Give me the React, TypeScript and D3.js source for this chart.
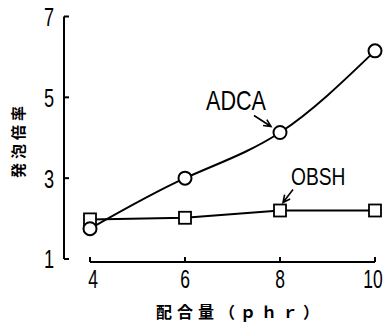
import React from "react";
import * as d3 from "d3";

const xValues = [4, 6, 8, 10];
const adca = [1.75, 3.0, 4.13, 6.15];
const obsh = [1.98, 2.02, 2.2, 2.2];
const xTicks = [4, 6, 8, 10];
const yTicks = [1, 3, 5, 7];
const xTitle = "配合量（ｐｈｒ）";
const yTitle = "発泡倍率";
const adcaName = "ADCA";
const obshName = "OBSH";

const W = 388;
const H = 324;
const FONT = "'Liberation Sans', 'DejaVu Sans', sans-serif";
const CJK = "'Noto Sans CJK JP', 'Noto Sans CJK SC', sans-serif";
const SX = 0.7;

export default function App() {
  const x = d3.scaleLinear().domain([4, 10]).range([90, 375]);
  const y = d3.scaleLinear().domain([1, 7]).range([259, 16.5]);
  const axisX = 64;
  const axisY = 262;

  const adcaPts: [number, number][] = xValues.map((v, i) => [x(v), y(adca[i])]);
  const obshPts: [number, number][] = xValues.map((v, i) => [x(v), y(obsh[i])]);
  const curve = d3.line().curve(d3.curveNatural);
  const straight = d3.line();

  const arrow = (x1: number, y1: number, x2: number, y2: number) => {
    const a = Math.atan2(y2 - y1, x2 - x1);
    const L = 8;
    const s = 0.45;
    const p1 = [x2 - L * Math.cos(a - s), y2 - L * Math.sin(a - s)];
    const p2 = [x2 - L * Math.cos(a + s), y2 - L * Math.sin(a + s)];
    return `M${x1},${y1}L${x2},${y2}M${p1[0]},${p1[1]}L${x2},${y2}L${p2[0]},${p2[1]}`;
  };

  const a8 = adcaPts[2];
  const o8 = obshPts[2];

  return (
    <svg width={W} height={H} style={{ position: "absolute", left: 0, top: 0, background: "#fff" }}>
      {/* y axis */}
      <line x1={axisX} x2={axisX} y1={y(7)} y2={y(1)} stroke="#000" strokeWidth={2} />
      {yTicks.map((t) => (
        <g key={t}>
          <line x1={axisX} x2={axisX + 5} y1={y(t)} y2={y(t)} stroke="#000" strokeWidth={2} />
          <text
            transform={`translate(49,${y(t)}) scale(${SX},1)`}
            dy="0.36em"
            textAnchor="middle"
            fontFamily={FONT}
            fontSize={26}
            fill="#000"
          >
            {t}
          </text>
        </g>
      ))}
      {/* x axis */}
      <line x1={x(4)} x2={x(10)} y1={axisY} y2={axisY} stroke="#000" strokeWidth={2} />
      {xTicks.map((t) => (
        <g key={t}>
          <line x1={x(t)} x2={x(t)} y1={axisY} y2={axisY - 5} stroke="#000" strokeWidth={2} />
          <text
            transform={`translate(${x(t) + (t === 4 ? 3 : 0) - (t === 10 ? 2 : 0)},279) scale(${SX},1)`}
            dy="0.36em"
            textAnchor="middle"
            fontFamily={FONT}
            fontSize={25}
            fill="#000"
          >
            {t}
          </text>
        </g>
      ))}
      {/* titles */}
      <text x={240} y={312} dy="0.36em" textAnchor="middle" fontFamily={CJK} fontWeight="bold" fontSize={16} letterSpacing={5} fill="#000">
        {xTitle}
      </text>
      <text
        transform={`translate(19,140) rotate(-90)`}
        textAnchor="middle"
        dy="0.36em"
        fontFamily={CJK}
        fontWeight="bold"
        fontSize={15}
        letterSpacing={4}
        fill="#000"
      >
        {yTitle}
      </text>
      {/* lines */}
      <path d={curve(adcaPts) || ""} fill="none" stroke="#000" strokeWidth={2} />
      <path d={straight(obshPts) || ""} fill="none" stroke="#000" strokeWidth={2} />
      {/* markers */}
      {obshPts.map((p, i) => (
        <rect key={"s" + i} x={p[0] - 6} y={p[1] - 6} width={12} height={12} fill="#fff" stroke="#000" strokeWidth={1.8} />
      ))}
      {adcaPts.map((p, i) => (
        <circle key={"c" + i} cx={p[0]} cy={p[1]} r={6.5} fill="#fff" stroke="#000" strokeWidth={2} />
      ))}
      {/* annotations */}
      <text transform={`translate(206,110) scale(0.8,1)`} fontFamily={FONT} fontSize={27} fill="#000">
        {adcaName}
      </text>
      <path d={arrow(a8[0] - 26, a8[1] - 17, a8[0] - 9, a8[1] - 6)} fill="none" stroke="#000" strokeWidth={1.6} />
      <text transform={`translate(291,185) scale(0.8,1)`} fontFamily={FONT} fontSize={24} fill="#000">
        {obshName}
      </text>
      <path d={arrow(o8[0] + 13, o8[1] - 21, o8[0] + 3, o8[1] - 8)} fill="none" stroke="#000" strokeWidth={1.6} />
    </svg>
  );
}
